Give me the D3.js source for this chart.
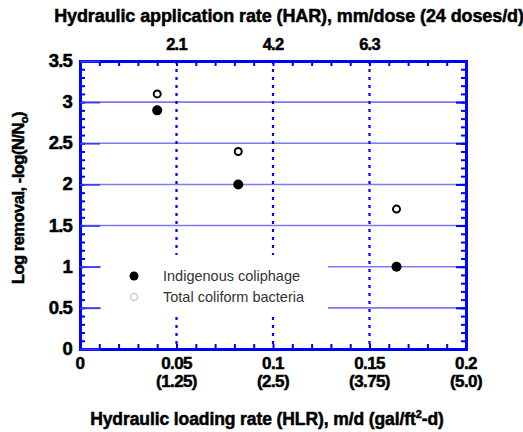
<!DOCTYPE html>
<meta charset="utf-8">
<html>
<head>
<style>
  body { margin:0; background:#fff; }
  svg { display:block; }
  .bold { font-family: "Liberation Sans", Arial, sans-serif; font-weight: bold; fill:#000; stroke:#000; stroke-width:0.5px; }
  .legend { font-family: "Liberation Sans", Arial, sans-serif; fill:#333; font-size:14.5px; }
</style>
<script src="https://d3js.org/d3.v7.min.js"></script>
</head>
<body>
<svg width="523" height="432"></svg>
<script>
// data
var hlr = [0.04, 0.082, 0.164];
var coliphage = [2.9, 2.0, 1.0];
var coliform = [3.1, 2.4, 1.7];
var xTicks = [0, 0.05, 0.1, 0.15, 0.2];
var xTickGal = ["", "(1.25)", "(2.5)", "(3.75)", "(5.0)"];
var harTicks = [0.05, 0.1, 0.15];
var harLabels = ["2.1", "4.2", "6.3"];
var yTicks = [0, 0.5, 1, 1.5, 2, 2.5, 3, 3.5];

var margin = {top: 61, bottom: 83, left: 80, right: 57};
var width = 523, height = 432;
var blue = "#0000ff";

var x = d3.scaleLinear().domain([0, 0.2]).range([margin.left, width - margin.right]);
var y = d3.scaleLinear().domain([0, 3.5]).range([height - margin.bottom, margin.top]);

var svg = d3.select("svg");

// horizontal grid
svg.append("g").selectAll("line")
  .data(yTicks.filter(d => d > 0 && d < 3.5))
  .enter().append("line")
  .attr("x1", x(0)).attr("x2", x(0.2))
  .attr("y1", d => y(d)).attr("y2", d => y(d))
  .attr("stroke", "#7a7af5").attr("stroke-width", 1.6);

// vertical dotted lines
svg.append("g").selectAll("line")
  .data(harTicks)
  .enter().append("line")
  .attr("x1", d => x(d)).attr("x2", d => x(d))
  .attr("y1", y(3.5)).attr("y2", y(0))
  .attr("stroke", blue).attr("stroke-width", 2.2)
  .attr("stroke-dasharray", "3,5");

// legend box (blanks grid underneath)
svg.append("rect")
  .attr("x", 101).attr("y", 255).attr("width", 227).attr("height", 61)
  .attr("fill", "#fff");

// axes
var xMinor = d3.range(0, 0.2001, 0.01);
var yMinor = d3.range(0, 3.5001, 0.1);

var gBottom = svg.append("g").attr("transform", "translate(0," + y(0) + ")")
  .call(d3.axisBottom(x).tickValues(xMinor).tickSize(-5).tickFormat(""));
var gTop = svg.append("g").attr("transform", "translate(0," + y(3.5) + ")")
  .call(d3.axisTop(x).tickValues(xMinor).tickSize(-5).tickFormat(""));
var gLeft = svg.append("g").attr("transform", "translate(" + x(0) + ",0)")
  .call(d3.axisLeft(y).tickValues(yMinor).tickSize(-5).tickFormat(""));
var gRight = svg.append("g").attr("transform", "translate(" + x(0.2) + ",0)")
  .call(d3.axisRight(y).tickValues(yMinor).tickSize(-5).tickFormat(""));
var gLeft2 = svg.append("g").attr("transform", "translate(" + x(0) + ",0)")
  .call(d3.axisLeft(y).tickValues(yTicks).tickSize(-20).tickFormat(""));
var gRight2 = svg.append("g").attr("transform", "translate(" + x(0.2) + ",0)")
  .call(d3.axisRight(y).tickValues(yTicks).tickSize(-10).tickFormat(""));
[gBottom, gTop, gLeft, gRight, gLeft2, gRight2].forEach(g => {
  g.selectAll("path").attr("stroke", blue).attr("stroke-width", 3);
  g.selectAll("line").attr("stroke", blue).attr("stroke-width", 2);
});
gLeft2.selectAll("line").attr("stroke-width", 1.6).attr("stroke", "#3a3af5");

// tick labels
svg.append("g").selectAll("text")
  .data(yTicks).enter().append("text")
  .attr("class", "bold")
  .attr("x", x(0) - 8).attr("y", d => y(d) + 6)
  .attr("text-anchor", "end").attr("font-size", 18.5)
  .attr("letter-spacing", -0.8)
  .text(d => d);

svg.append("g").selectAll("text")
  .data(xTicks).enter().append("text")
  .attr("class", "bold")
  .attr("x", d => x(d)).attr("y", y(0) + 20)
  .attr("text-anchor", "middle").attr("font-size", 17)
  .attr("letter-spacing", -0.6)
  .text(d => d);

svg.append("g").selectAll("text")
  .data(xTicks.slice(1)).enter().append("text")
  .attr("class", "bold")
  .attr("x", d => x(d)).attr("y", y(0) + 38)
  .attr("text-anchor", "middle").attr("font-size", 17)
  .attr("letter-spacing", -0.6)
  .text((d, i) => xTickGal[i + 1]);

svg.append("g").selectAll("text")
  .data(harTicks).enter().append("text")
  .attr("class", "bold")
  .attr("x", d => x(d)).attr("y", y(3.5) - 11)
  .attr("text-anchor", "middle").attr("font-size", 16.5)
  .attr("letter-spacing", -0.8)
  .text((d, i) => harLabels[i]);

// titles
svg.append("text").attr("class", "bold")
  .attr("x", 289).attr("y", 22).attr("text-anchor", "middle")
  .attr("font-size", 18).attr("letter-spacing", -0.1)
  .text("Hydraulic application rate (HAR), mm/dose (24 doses/d)");

var xt = svg.append("text").attr("class", "bold")
  .attr("x", 267).attr("y", 425).attr("text-anchor", "middle")
  .attr("font-size", 17.5).attr("letter-spacing", -0.1);
xt.append("tspan").text("Hydraulic loading rate (HLR), m/d (gal/ft");
xt.append("tspan").attr("dy", -7).attr("font-size", 11).text("2");
xt.append("tspan").attr("dy", 7).text("-d)");

var yt = svg.append("text").attr("class", "bold")
  .attr("transform", "translate(24,198) rotate(-90)")
  .attr("text-anchor", "middle")
  .attr("font-size", 16.5).attr("letter-spacing", -0.5);
yt.append("tspan").text("Log removal, -log(N/N");
yt.append("tspan").attr("dy", 4).attr("font-size", 11).text("o");
yt.append("tspan").attr("dy", -4).text(")");

// points
svg.append("g").selectAll("circle")
  .data(hlr).enter().append("circle")
  .attr("cx", d => x(d)).attr("cy", (d, i) => y(coliform[i]))
  .attr("r", 3.5).attr("fill", "#fff")
  .attr("stroke", "#000").attr("stroke-width", 2);

svg.append("g").selectAll("circle")
  .data(hlr).enter().append("circle")
  .attr("cx", d => x(d)).attr("cy", (d, i) => y(coliphage[i]))
  .attr("r", 5).attr("fill", "#000");

// legend
svg.append("circle").attr("cx", 134).attr("cy", 276).attr("r", 4.5).attr("fill", "#000");
svg.append("circle").attr("cx", 134).attr("cy", 297).attr("r", 3.5)
  .attr("fill", "none").attr("stroke", "#ccc").attr("stroke-width", 1.5);
svg.append("text").attr("class", "legend").attr("x", 163).attr("y", 281).text("Indigenous coliphage");
svg.append("text").attr("class", "legend").attr("x", 163).attr("y", 302).text("Total coliform bacteria");
</script>
</body>
</html>
